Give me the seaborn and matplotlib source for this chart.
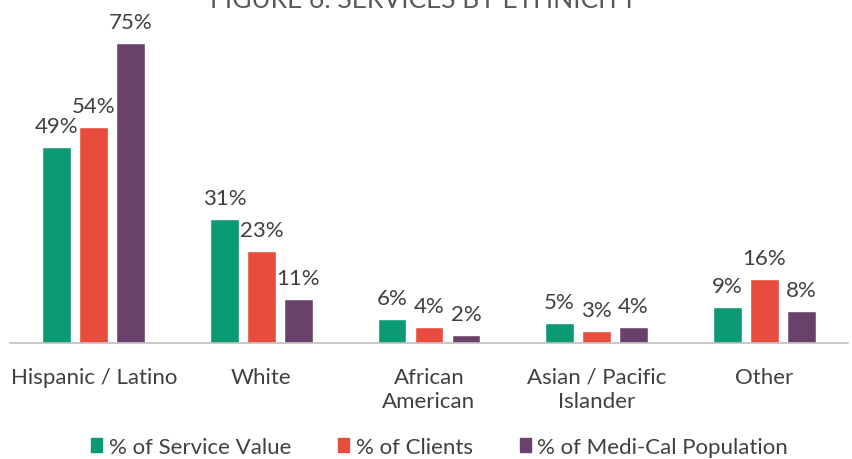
import pandas as pd
import numpy as np
import matplotlib.pyplot as plt
import seaborn as sns

# chart data
categories = ['Hispanic / Latino', 'White', 'African\nAmerican', 'Asian / Pacific\nIslander', 'Other']
service_value = [49, 31, 6, 5, 9]
clients = [54, 23, 4, 3, 16]
medical_pop = [75, 11, 2, 4, 8]
series_names = ['% of Service Value', '% of Clients', '% of Medi-Cal Population']
colors = ['#0A9A74', '#E84C3D', '#6A416B']

# long format for seaborn
df = pd.DataFrame({
    'Ethnicity': categories * 3,
    'Series': np.repeat(series_names, len(categories)),
    'Pct': service_value + clients + medical_pop,
})

sns.set_style('white')
plt.rcParams['font.family'] = ['Lato', 'DejaVu Sans']
text_color = '#404040'

fig = plt.figure(figsize=(8.52, 4.6), dpi=100)
ax = fig.add_axes([10 / 852, 116 / 460, 838 / 852, 344 / 460])

sns.barplot(data=df, x='Ethnicity', y='Pct', hue='Series', palette=colors,
            width=0.662, gap=0.22, ax=ax, legend=False, saturation=1)

ax.set_ylim(0, 86)
ax.set_xlim(-0.5, len(categories) - 0.5)

# value labels
for cont in ax.containers:
    ax.bar_label(cont, fmt='%d%%', padding=8, fontsize=16, color=text_color)

for s in ['top', 'left', 'right']:
    ax.spines[s].set_visible(False)
ax.spines['bottom'].set_color('#BFBFBF')
ax.spines['bottom'].set_linewidth(1.2)
ax.set_yticks([])
ax.set_xlabel('')
ax.set_ylabel('')
ax.tick_params(axis='x', which='major', length=0, pad=17, labelsize=16, labelcolor=text_color)
ax.set_xticks(np.arange(-0.5, len(categories)), minor=True)
ax.tick_params(axis='x', which='minor', length=10, color='#BFBFBF', width=1.2)
for lbl in ax.get_xticklabels():
    lbl.set_linespacing(1.3)

# legend
handles = [plt.Rectangle((0, 0), 1, 1, color=c) for c in colors]
fig.legend(handles, series_names, loc='center', bbox_to_anchor=(0.516, 12 / 460), ncol=3,
           frameon=False, fontsize=16, labelcolor=text_color, handlelength=0.5,
           handleheight=0.6, handletextpad=0.3, columnspacing=2.1)

# title, partly cut off at the top edge as in the original
fig.text(0.497, 1.0, 'FIGURE 6: SERVICES BY ETHNICITY', ha='center', va='center',
         fontsize=19, color='#595959')

fig.savefig('out.png', dpi=100)
